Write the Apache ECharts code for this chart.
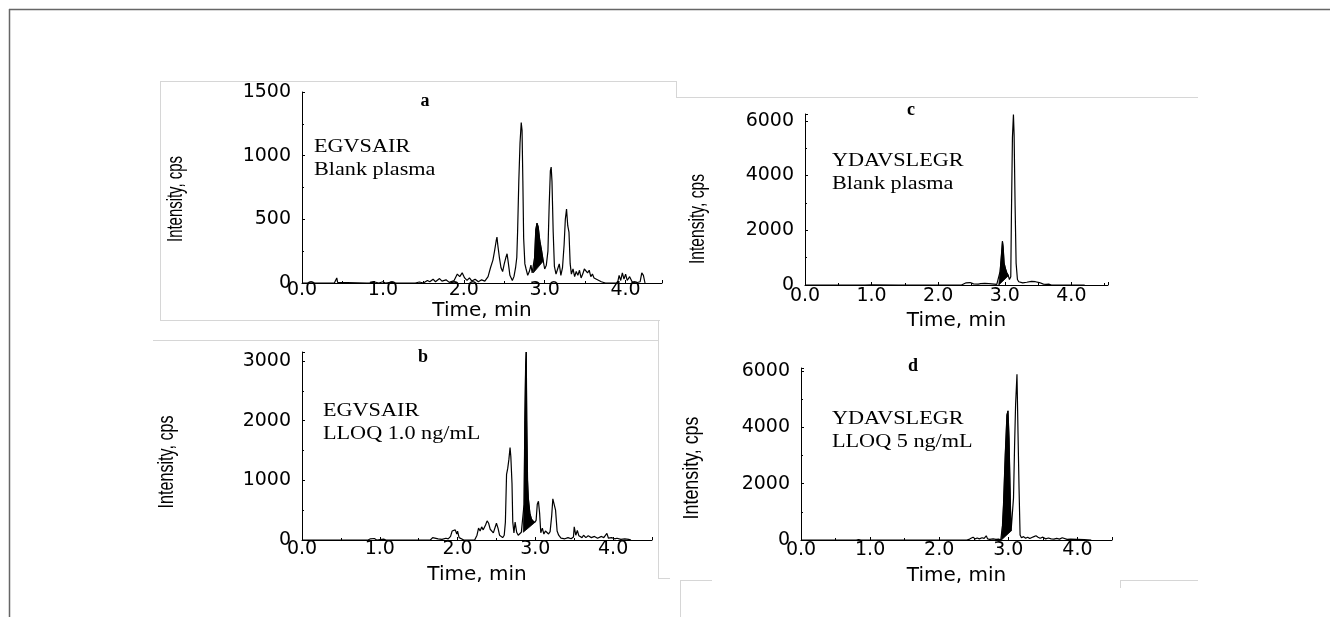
<!DOCTYPE html>
<html><head><meta charset="utf-8">
<script src="https://cdn.jsdelivr.net/npm/echarts@6/dist/echarts.min.js"></script>
<style>html,body{margin:0;padding:0;background:#fff}#c{width:1330px;height:617px}</style>
</head><body><div id="c"></div>
<script>
// ---- data: [time (min), intensity (cps)] ----
const traceA = [[0,0],[0.40,0],[0.42,8],[0.43,40],[0.44,5],[0.46,0],[0.80,0],[0.82,10],[0.85,0],[0.90,8],[0.95,0],[1.00,10],[1.03,0],[1.10,5],[1.15,0],[1.40,0],[1.45,8],[1.50,0],[1.55,20],[1.58,10],[1.62,30],[1.65,10],[1.70,35],[1.73,15],[1.78,25],[1.82,5],[1.88,20],[1.92,70],[1.95,50],[1.98,80],[2.01,40],[2.04,20],[2.07,40],[2.10,15],[2.14,30],[2.18,10],[2.22,25],[2.26,15],[2.30,50],[2.33,120],[2.36,180],[2.38,250],[2.40,330],[2.41,360],[2.42,300],[2.44,200],[2.46,120],[2.48,90],[2.50,150],[2.52,200],[2.535,230],[2.55,160],[2.57,60],[2.60,20],[2.62,50],[2.64,120],[2.655,200],[2.665,400],[2.68,800],[2.695,1100],[2.71,1260],[2.72,1200],[2.73,800],[2.74,350],[2.755,150],[2.77,110],[2.79,60],[2.81,90],[2.83,140],[2.845,80],[2.86,80],[2.875,200],[2.89,420],[2.905,470],[2.92,440],[2.94,330],[2.96,260],[2.98,180],[3.00,110],[3.02,140],[3.04,250],[3.055,600],[3.07,880],[3.08,910],[3.09,800],[3.105,400],[3.12,130],[3.14,70],[3.16,110],[3.18,150],[3.20,60],[3.22,120],[3.24,300],[3.255,500],[3.27,580],[3.285,450],[3.30,400],[3.315,150],[3.33,70],[3.35,110],[3.37,50],[3.39,90],[3.41,60],[3.43,100],[3.45,40],[3.47,70],[3.49,110],[3.51,120],[3.53,80],[3.55,100],[3.57,50],[3.59,70],[3.61,40],[3.64,30],[3.67,20],[3.70,10],[3.75,0],[3.90,0],[3.92,60],[3.94,20],[3.96,80],[3.98,30],[4.00,70],[4.02,20],[4.05,50],[4.08,10],[4.12,0],[4.18,10],[4.20,80],[4.22,60],[4.24,0]];
const peakA = [[2.86,80],[2.875,200],[2.89,420],[2.905,470],[2.92,440],[2.94,330],[2.96,260],[2.98,180],[2.98,170]];

const traceB = [[0,0],[0.85,0],[0.88,20],[0.90,10],[0.93,25],[0.96,0],[1.05,15],[1.08,0],[1.10,20],[1.13,0],[1.38,0],[1.40,15],[1.43,0],[1.65,0],[1.68,40],[1.70,10],[1.75,20],[1.80,10],[1.85,30],[1.88,20],[1.91,60],[1.93,150],[1.95,120],[1.97,170],[1.99,100],[2.00,150],[2.02,40],[2.04,10],[2.08,0],[2.22,0],[2.25,80],[2.27,200],[2.29,150],[2.31,220],[2.33,170],[2.36,250],[2.38,320],[2.40,280],[2.42,180],[2.44,200],[2.46,120],[2.48,150],[2.50,280],[2.52,200],[2.54,80],[2.56,60],[2.58,40],[2.60,80],[2.615,300],[2.63,1100],[2.645,1200],[2.66,1350],[2.675,1550],[2.685,1400],[2.70,950],[2.71,300],[2.725,120],[2.74,300],[2.76,130],[2.78,80],[2.80,100],[2.82,130],[2.845,130],[2.855,600],[2.865,2000],[2.875,2900],[2.883,3150],[2.89,2000],[2.90,1000],[2.91,700],[2.93,450],[2.95,350],[2.97,320],[2.99,290],[3.01,330],[3.025,600],[3.04,650],[3.055,450],[3.07,120],[3.09,200],[3.11,100],[3.13,150],[3.15,180],[3.17,100],[3.19,140],[3.21,400],[3.225,690],[3.24,680],[3.26,500],[3.28,150],[3.30,80],[3.33,30],[3.35,50],[3.38,20],[3.42,40],[3.46,20],[3.49,50],[3.50,220],[3.52,80],[3.54,160],[3.56,70],[3.58,100],[3.60,40],[3.62,80],[3.65,40],[3.68,70],[3.72,40],[3.76,60],[3.80,30],[3.85,60],[3.88,40],[3.92,110],[3.94,30],[3.98,40],[4.02,20],[4.05,30],[4.10,10],[4.15,20],[4.20,10],[4.23,0]];
const peakB = [[2.845,130],[2.855,600],[2.865,2000],[2.875,2900],[2.883,3150],[2.89,2000],[2.90,1000],[2.91,700],[2.93,450],[2.95,350],[2.97,320],[2.99,290]];

const traceC = [[0,0],[0.45,0],[0.47,10],[0.49,0],[0.85,0],[0.88,15],[0.90,0],[1.00,10],[1.02,0],[1.40,0],[1.42,8],[1.44,0],[2.35,0],[2.38,30],[2.42,80],[2.45,120],[2.48,90],[2.50,60],[2.53,40],[2.56,60],[2.60,30],[2.64,50],[2.67,90],[2.70,60],[2.73,30],[2.76,50],[2.80,40],[2.84,30],[2.88,20],[2.90,10],[2.91,0],[2.93,500],[2.95,1100],[2.965,1600],[2.975,1400],[2.99,800],[3.01,600],[3.03,450],[3.05,360],[3.07,200],[3.09,300],[3.10,2600],[3.115,5400],[3.13,6230],[3.14,5500],[3.155,2900],[3.17,800],[3.19,200],[3.21,120],[3.24,180],[3.27,80],[3.30,130],[3.33,100],[3.36,60],[3.40,130],[3.43,90],[3.46,120],[3.49,170],[3.52,90],[3.55,50],[3.58,30],[3.62,20],[3.66,30],[3.70,0],[4.20,0]];
const peakC = [[2.91,0],[2.93,500],[2.95,1100],[2.965,1600],[2.975,1400],[2.99,800],[3.01,600],[3.03,450],[3.05,360],[3.055,340]];

const traceD = [[0,0],[0.80,0],[0.83,15],[0.86,5],[0.88,15],[0.90,0],[1.30,0],[1.32,8],[1.34,0],[2.40,0],[2.43,20],[2.46,60],[2.49,100],[2.52,40],[2.55,70],[2.58,40],[2.62,80],[2.65,60],[2.68,150],[2.70,40],[2.73,20],[2.78,40],[2.82,20],[2.86,30],[2.89,0],[2.90,0],[2.915,500],[2.93,1240],[2.955,3000],[2.98,4440],[2.995,4580],[3.01,3620],[3.03,1240],[3.04,330],[3.06,300],[3.075,1500],[3.09,3300],[3.105,4800],[3.125,5880],[3.14,3800],[3.155,1830],[3.17,180],[3.19,80],[3.22,120],[3.25,60],[3.28,100],[3.31,50],[3.34,90],[3.37,120],[3.40,150],[3.43,100],[3.46,60],[3.50,100],[3.54,40],[3.58,70],[3.62,40],[3.66,30],[3.70,60],[3.74,30],[3.78,80],[3.80,40],[3.85,20],[3.90,30],[4.00,20],[4.10,10],[4.20,0]];
const peakD = [[2.90,0],[2.915,500],[2.93,1240],[2.955,3000],[2.98,4440],[2.995,4580],[3.01,3620],[3.03,1240],[3.04,330],[3.045,330]];

const panelLetters = ['a','b','c','d'];
const analyteLabels = ['EGVSAIR','EGVSAIR','YDAVSLEGR','YDAVSLEGR'];
const sampleLabels = ['Blank plasma','LLOQ 1.0 ng/mL','Blank plasma','LLOQ 5 ng/mL'];
const xAxisTitle = 'Time, min';
const yAxisTitle = 'Intensity, cps';
const xMax = [4.45, 4.5, 4.55, 4.5];
const yMax = [1500, 3150, 6250, 6100];
const yInterval = [500, 1000, 2000, 2000];

// ---- layout ----
const grids = [
  {left:302, top:92, width:360, height:191},
  {left:302, top:352, width:350, height:188},
  {left:805, top:114, width:303, height:171},
  {left:801, top:368, width:311, height:172}
];
const xLabelMargin = [-2, 0, 2, 1];
const xNameGap = [16, 25, 26, 26];
// y-axis title: centre position, font size, target length (condensed face)
const yTitlePos = [[176,199],[167,462],[698,219],[692,468]];
const yTitleSize = [22, 22, 22, 22];
const yTitleLen = [86, 93, 90, 103];

const traces = [traceA, traceB, traceC, traceD];
const peaks = [peakA, peakB, peakC, peakD];

const tickFont = "'DejaVu Sans', sans-serif";
const xAxes = [], yAxes = [], series = [];
for (let i = 0; i < 4; i++) {
  xAxes.push({
    type:'value', gridIndex:i, min:0, max:xMax[i], interval:1,
    name:xAxisTitle, nameLocation:'middle', nameGap:xNameGap[i],
    nameTextStyle:{fontFamily:tickFont, fontSize:20, color:'#000'},
    axisLine:{show:true, onZero:false, lineStyle:{color:'#000', width:1}},
    axisTick:{show:true, inside:true, length:3, lineStyle:{color:'#000'}},
    minorTick:{show:true, splitNumber:2, length:2, lineStyle:{color:'#000'}},
    splitLine:{show:false},
    axisLabel:{color:'#000', fontFamily:tickFont, fontSize:19, margin:xLabelMargin[i], showMaxLabel:false,
      formatter: v => v.toFixed(1)}
  });
  yAxes.push({
    type:'value', gridIndex:i, min:0, max:yMax[i], interval:yInterval[i],
    axisLine:{show:true, onZero:false, lineStyle:{color:'#000', width:1}},
    axisTick:{show:true, inside:true, length:3, lineStyle:{color:'#000'}},
    minorTick:{show:true, splitNumber:2, length:2, lineStyle:{color:'#000'}},
    splitLine:{show:false},
    axisLabel:{color:'#000', fontFamily:tickFont, fontSize:19, margin:11, showMaxLabel: yMax[i] % yInterval[i] === 0,
      formatter: v => String(v)}
  });
  series.push({
    type:'line', xAxisIndex:i, yAxisIndex:i, data:traces[i], symbol:'none', showSymbol:false,
    lineStyle:{color:'#000', width:1.2}, z:2, silent:true
  });
  const poly = peaks[i];
  series.push({
    type:'custom', xAxisIndex:i, yAxisIndex:i, data:poly, encode:{x:0, y:1}, z:3, silent:true,
    renderItem: function (params, api) {
      if (params.dataIndex !== 0) return;
      const pts = poly.map(p => api.coord(p));
      return {type:'polygon', shape:{points:pts}, style:{fill:'#000', stroke:'#000', lineWidth:0.8}};
    }
  });
}

// ---- annotations & decoration ----
const serif = "'Liberation Serif', 'Times New Roman', serif";
const sans = "'Liberation Sans', Arial, sans-serif";
const letterPos = [[425,101],[423,357],[911,110],[913,366]];
const textLeft = [314, 323, 832, 832];
const textY1 = [147, 411, 161, 419];
const textY2 = [170, 434, 184, 442];
const graphic = [];
function line(x1,y1,x2,y2,color,w){ graphic.push({type:'line', silent:true, shape:{x1,y1,x2,y2}, style:{stroke:color, lineWidth:w}}); }
// outer frame
line(9,9.5,1330,9.5,'#666',1.5);
line(9.5,9,9.5,617,'#666',1.5);
// faint sub-image borders
const faint = '#d6d6d6';
line(160,81.5,676,81.5,faint,1);
line(160.5,81,160.5,320,faint,1);
line(160,320.5,660,320.5,faint,1);
line(676.5,81,676.5,97,faint,1);
line(676,97.5,1198,97.5,faint,1);
line(153,340.5,658,340.5,faint,1);
line(658.5,320,658.5,578,faint,1);
line(658,578.5,670,578.5,faint,1);
line(680,580.5,712,580.5,faint,1);
line(680.5,580,680.5,617,faint,1);
line(1120,580.5,1198,580.5,faint,1);
line(1120.5,580,1120.5,588,faint,1);
const mctx = document.createElement('canvas').getContext('2d');
for (let i = 0; i < 4; i++) {
  graphic.push({type:'text', silent:true, x:letterPos[i][0], y:letterPos[i][1],
    style:{text:panelLetters[i], font:"bold 18px " + serif, fill:'#000', textAlign:'center', textVerticalAlign:'middle'}});
  graphic.push({type:'text', silent:true, x:textLeft[i], y:textY1[i], scaleX:1.2,
    style:{text:analyteLabels[i], font:"18.5px " + serif, fill:'#000', textAlign:'left', textVerticalAlign:'middle'}});
  graphic.push({type:'text', silent:true, x:textLeft[i], y:textY2[i], scaleX:1.2,
    style:{text:sampleLabels[i], font:"18.5px " + serif, fill:'#000', textAlign:'left', textVerticalAlign:'middle'}});
  const f = yTitleSize[i] + "px " + sans;
  mctx.font = f;
  const w = mctx.measureText(yAxisTitle).width;
  graphic.push({type:'text', silent:true, x:yTitlePos[i][0], y:yTitlePos[i][1], rotation:Math.PI/2, scaleX: yTitleLen[i] / w,
    style:{text:yAxisTitle, font:f, fill:'#000', textAlign:'center', textVerticalAlign:'middle'}});
}

const chart = echarts.init(document.getElementById('c'), null, {renderer:'canvas'});
chart.setOption({
  animation:false,
  backgroundColor:'#fff',
  grid: grids,
  xAxis: xAxes,
  yAxis: yAxes,
  series: series,
  graphic: graphic
});
</script>
</body></html>
